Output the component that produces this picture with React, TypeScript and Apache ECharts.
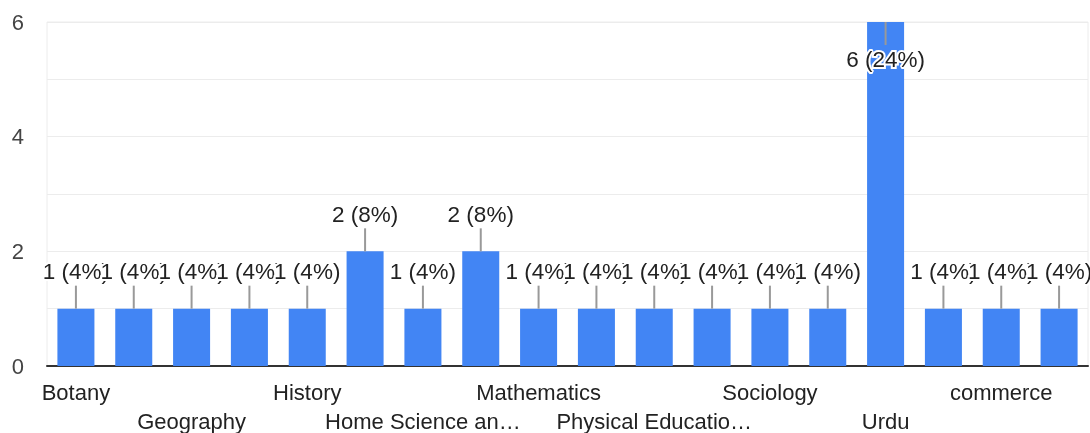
import React, { useEffect, useRef } from "react";
import * as echarts from "echarts";

const categories = [
  "Botany",
  "Chemistry",
  "Geography",
  "Hindi",
  "History",
  "Home Science",
  "Home Science and Extension",
  "Marathi",
  "Mathematics",
  "Philosophy",
  "Physical Education and Sports",
  "Political Science",
  "Sociology",
  "Statistics",
  "Urdu",
  "Zoology",
  "commerce",
  "economics",
];

const counts = [1, 1, 1, 1, 1, 2, 1, 2, 1, 1, 1, 1, 1, 1, 6, 1, 1, 1];

const yTicks = [0, 2, 4, 6];

const FONT = '"Liberation Sans", Arial, sans-serif';

export default function App() {
  const ref = useRef<HTMLDivElement>(null);

  useEffect(() => {
    if (!ref.current) return;
    const chart = echarts.init(ref.current, undefined, { renderer: "svg" });
    const total = counts.reduce((a, b) => a + b, 0);

    chart.setOption({
      animation: false,
      grid: {
        left: 47,
        right: 2,
        top: 22,
        bottom: 67,
        show: true,
        borderColor: "#ececec",
        borderWidth: 1,
        containLabel: false,
        outerBoundsMode: "none",
      },
      xAxis: {
        type: "category",
        data: categories,
        axisLine: { show: true, lineStyle: { color: "#333", width: 2 } },
        axisTick: { show: false },
        axisLabel: {
          interval: 0,
          margin: 12,
          color: "#222",
          fontSize: 22,
          fontFamily: FONT,
          lineHeight: 29,
          width: 201,
          overflow: "truncate",
          ellipsis: "…",
          formatter: (val: string, idx: number) => {
            if (idx % 4 === 0) return val;
            if (idx % 4 === 2) return "\n" + val;
            return "";
          },
        },
      },
      yAxis: {
        type: "value",
        min: 0,
        max: 6,
        interval: 1,
        axisLine: { show: false },
        axisTick: { show: false },
        splitLine: { show: true, lineStyle: { color: "#ececec", width: 1 } },
        axisLabel: {
          margin: 23,
          color: "#444",
          fontSize: 22,
          fontFamily: FONT,
          formatter: (v: number) => (yTicks.includes(v) ? String(v) : ""),
        },
      },
      series: [
        {
          type: "bar",
          data: counts,
          barWidth: "64%",
          itemStyle: { color: "#4285f4" },
          silent: true,
        },
        {
          type: "custom",
          data: counts.map((v, i) => [i, v]),
          encode: { x: 0, y: 1 },
          z: 10,
          clip: false,
          silent: true,
          renderItem: (params: any, api: any) => {
            const idx = api.value(0);
            const v = api.value(1);
            const p = api.coord([idx, v]);
            const top = params.coordSys.y;
            const down = p[1] - 45 < top;
            const dir = down ? 1 : -1;
            const label = `${v} (${Math.round((v / total) * 100)}%)`;
            return {
              type: "group",
              children: [
                {
                  type: "line",
                  shape: { x1: p[0], y1: p[1], x2: p[0], y2: p[1] + dir * 23 },
                  style: { stroke: "#999", lineWidth: 2 },
                },
                {
                  type: "text",
                  x: p[0],
                  y: p[1] + dir * 37,
                  style: {
                    text: label,
                    fill: "#222",
                    stroke: "#fff",
                    lineWidth: 4,
                    strokeFirst: true,
                    font: `22.5px ${FONT}`,
                    align: "center",
                    verticalAlign: "middle",
                  },
                },
              ],
            };
          },
        },
      ],
    });

    return () => chart.dispose();
  }, []);

  return (
    <div
      ref={ref}
      style={{ position: "fixed", left: 0, top: 0, width: 1090, height: 433 }}
    />
  );
}
